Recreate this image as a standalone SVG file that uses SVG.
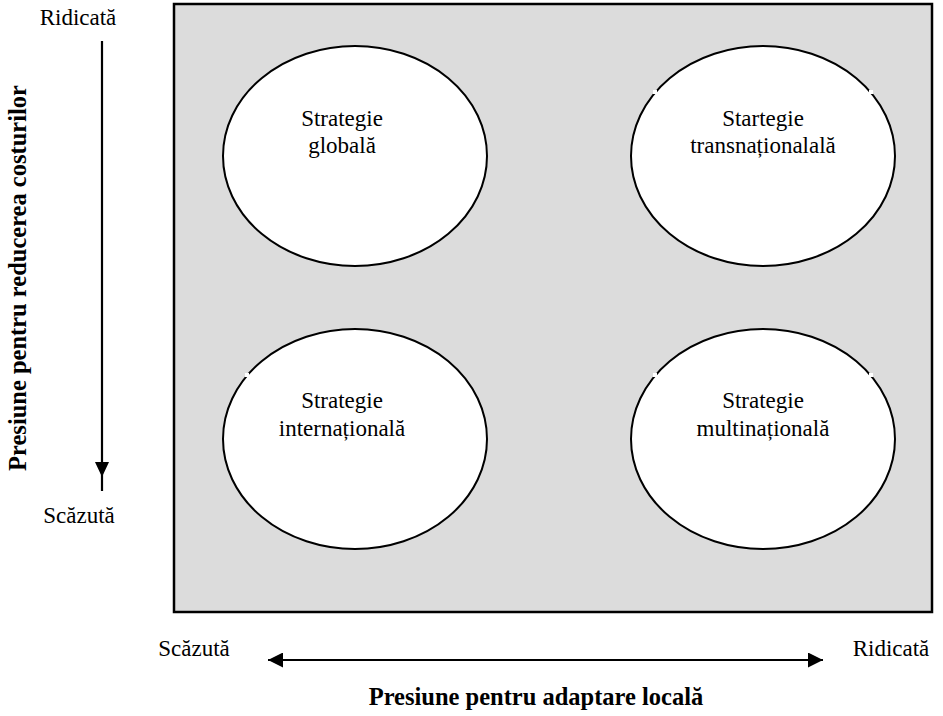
<svg xmlns="http://www.w3.org/2000/svg" width="943" height="716" viewBox="0 0 943 716">
<style>
text{font-family:"Liberation Serif","Times New Roman",serif;fill:#000}
.t{font-size:23px;text-anchor:middle}
.b{font-size:24.5px;font-weight:bold;text-anchor:middle}
.el{fill:#fff;stroke:#000;stroke-width:2}
.ln{stroke:#000;stroke-width:2.2;fill:none}
.nk{fill:#fff}
</style>
<defs>
<marker id="ah" viewBox="0 0 10 10" refX="10" refY="5" markerWidth="15" markerHeight="15" markerUnits="userSpaceOnUse" orient="auto-start-reverse">
<path d="M0,0 L10,5 L0,10 z" fill="#000"/>
</marker>
</defs>
<rect x="174" y="4" width="758" height="608" fill="#dcdcdc" stroke="#000" stroke-width="2.5"/>
<g id="global">
<ellipse class="el" cx="355" cy="156" rx="132" ry="110"/>
<text class="t" x="342" y="126">Strategie</text>
<text class="t" x="342" y="153">globală</text>
</g>
<g id="transnational">
<ellipse class="el" cx="763" cy="156" rx="132" ry="110"/>
<rect class="nk" x="653" y="90" width="4" height="4"/>
<rect class="nk" x="869" y="90" width="4" height="4"/>
<text class="t" x="763" y="126">Startegie</text>
<text class="t" x="763" y="153">transnaționalală</text>
</g>
<g id="international">
<ellipse class="el" cx="355" cy="439" rx="132" ry="110"/>
<rect class="nk" x="245" y="373" width="4" height="4"/>
<text class="t" x="342" y="408">Strategie</text>
<text class="t" x="342" y="436">internațională</text>
</g>
<g id="multinational">
<ellipse class="el" cx="763" cy="439" rx="132" ry="110"/>
<rect class="nk" x="653" y="373" width="4" height="4"/>
<rect class="nk" x="869" y="373" width="4" height="4"/>
<text class="t" x="763" y="408">Strategie</text>
<text class="t" x="763" y="436">multinațională</text>
</g>
<g id="connectors">
<line class="ln" x1="102" y1="41" x2="102" y2="491"/>
<polygon points="95,462 109,462 102,477" fill="#000"/>
<line class="ln" x1="268" y1="660" x2="823" y2="660" marker-start="url(#ah)" marker-end="url(#ah)"/>
</g>
<g id="labels">
<text class="t" x="78" y="25">Ridicată</text>
<text class="t" x="79" y="523">Scăzută</text>
<text class="t" x="194" y="656">Scăzută</text>
<text class="t" x="891" y="656">Ridicată</text>
<text class="b" x="536" y="705">Presiune pentru adaptare locală</text>
<text class="b" transform="translate(26,278) rotate(-90)">Presiune pentru reducerea costurilor</text>
</g>
</svg>
